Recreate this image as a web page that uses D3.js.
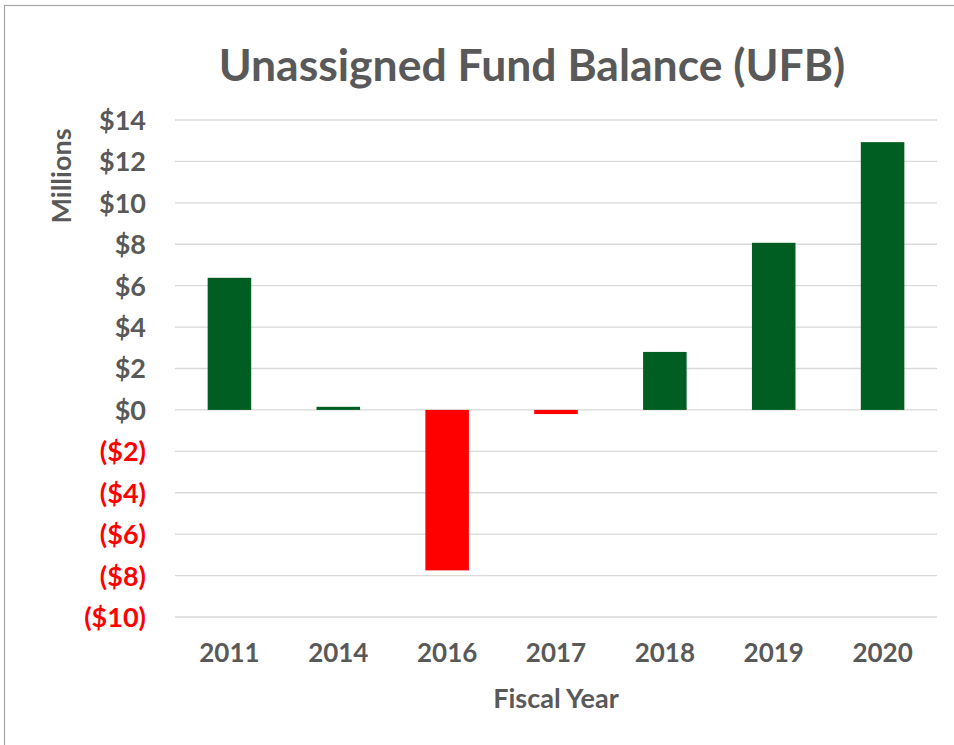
<!DOCTYPE html>
<html>
<head>
<meta charset="utf-8">
<script src="https://cdn.jsdelivr.net/npm/d3@7"></script>
<style>
    body { margin: 0; background: #fff; }
    svg text { font-family: Lato, "Open Sans", sans-serif; font-weight: bold; }
</style>
</head>
<body>
<svg id="canvas" width="954" height="745"></svg>
<script>
(function () {

    // Data (millions of dollars).
    var years = ["2011", "2014", "2016", "2017", "2018", "2019", "2020"];
    var balances = [6.38, 0.15, -7.75, -0.2, 2.8, 8.07, 12.93];
    var yTicks = [-10, -8, -6, -4, -2, 0, 2, 4, 6, 8, 10, 12, 14];

    var green = "#005E23";
    var red = "#FF0000";
    var grey = "#595959";

    var plot = { left: 175, right: 937, top: 120, bottom: 617 };

    var svg = d3.select("#canvas");

    // Outer chart frame.
    svg.append("rect")
        .attr("x", 4.5)
        .attr("y", 5.5)
        .attr("width", 970)
        .attr("height", 780)
        .attr("fill", "none")
        .attr("stroke", "#A6A6A6")
        .attr("stroke-width", 1.2);

    var xScale = d3.scaleBand()
        .domain(years)
        .range([plot.left, plot.right])
        .paddingInner(0.6)
        .paddingOuter(0.3);

    var yScale = d3.scaleLinear()
        .domain([-10, 14])
        .range([plot.bottom, plot.top]);

    // Gridlines.
    svg.append("g")
        .selectAll("line")
        .data(yTicks)
        .join("line")
        .attr("x1", plot.left)
        .attr("x2", plot.right)
        .attr("y1", d => yScale(d))
        .attr("y2", d => yScale(d))
        .attr("stroke", "#D9D9D9")
        .attr("stroke-width", 1.3);

    // Y axis labels: negatives shown in red with parentheses.
    var yAxis = d3.axisLeft(yScale)
        .tickValues(yTicks)
        .tickSize(0)
        .tickPadding(0)
        .tickFormat(d => d < 0 ? "($" + (-d) + ")" : "$" + d);
    var yg = svg.append("g")
        .attr("transform", "translate(146, 0)")
        .call(yAxis);
    yg.select(".domain").remove();
    yg.selectAll("text")
        .attr("font-size", 27)
        .attr("fill", d => d < 0 ? red : grey)
        .attr("dy", "0.35em");

    // Bars.
    svg.append("g")
        .selectAll("rect")
        .data(years)
        .join("rect")
        .attr("x", d => xScale(d))
        .attr("width", xScale.bandwidth())
        .attr("y", (d, i) => yScale(Math.max(0, balances[i])))
        .attr("height", (d, i) => Math.abs(yScale(balances[i]) - yScale(0)))
        .attr("fill", (d, i) => balances[i] < 0 ? red : green);

    // X axis labels.
    var xAxis = d3.axisBottom(xScale).tickSize(0).tickPadding(0);
    var xg = svg.append("g")
        .attr("transform", "translate(0, 644)")
        .call(xAxis);
    xg.select(".domain").remove();
    xg.selectAll("text")
        .attr("font-size", 26)
        .attr("fill", grey)
        .attr("dy", "0.71em");

    // Titles.
    svg.append("text")
        .attr("x", 532)
        .attr("y", 81)
        .attr("text-anchor", "middle")
        .attr("font-size", 44.5)
        .attr("fill", grey)
        .text("Unassigned Fund Balance (UFB)");

    svg.append("text")
        .attr("x", 556)
        .attr("y", 708)
        .attr("text-anchor", "middle")
        .attr("font-size", 27)
        .attr("fill", grey)
        .text("Fiscal Year");

    svg.append("text")
        .attr("transform", "translate(71, 176) rotate(-90)")
        .attr("text-anchor", "middle")
        .attr("font-size", 27)
        .attr("fill", grey)
        .text("Millions");

})();
</script>
</body>
</html>
